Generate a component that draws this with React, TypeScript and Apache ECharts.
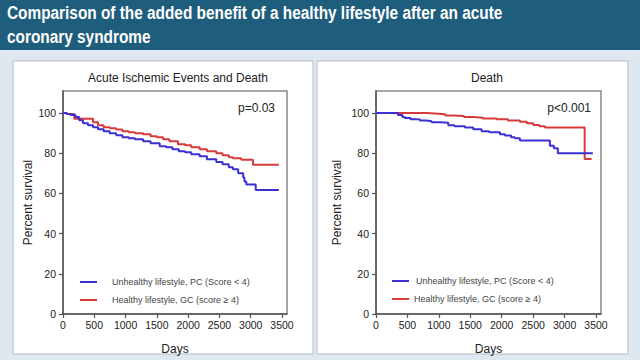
import React, { useEffect, useRef } from "react";
import * as echarts from "echarts";

const headerLines = [
  "Comparison of the added benefit of a healthy lifestyle after an acute",
  "coronary syndrome",
];
const panelTitles = ["Acute Ischemic Events and Death", "Death"];
const pValues = ["p=0.03", "p<0.001"];
const seriesNames = ["Unhealthy lifestyle, PC (Score < 4)", "Healthy lifestyle, GC (score ≥ 4)"];
const seriesColors = ["#3b30d4", "#d83a3a"];
const xTicks = [0, 500, 1000, 1500, 2000, 2500, 3000, 3500];
const yTicks = [0, 20, 40, 60, 80, 100];

// Left panel: Acute Ischemic Events and Death
const leftUnhealthy: [number, number][] = [
  [0, 100], [60, 99.5], [120, 99], [200, 98], [260, 96.5], [320, 95], [400, 94], [480, 93],
  [560, 92], [650, 91], [746, 90], [850, 89], [950, 88], [1050, 87.5], [1150, 87], [1280, 86],
  [1400, 85], [1545, 83.5], [1650, 83], [1750, 82], [1850, 81], [1950, 80.5], [2050, 79.5],
  [2184, 78.5], [2300, 77], [2450, 75.7], [2550, 74.5], [2650, 73], [2716, 72], [2800, 70],
  [2880, 68], [2900, 66], [2930, 64.5], [3080, 61.7], [3450, 61.7],
];
const leftHealthy: [number, number][] = [
  [0, 100], [60, 99.5], [180, 97.2], [450, 97.2], [480, 95.5], [560, 94], [650, 93], [750, 92.5],
  [850, 91.8], [950, 91], [1050, 90.5], [1150, 90], [1280, 89.5], [1400, 88.5], [1500, 88],
  [1600, 87], [1700, 86], [1838, 84.5], [1950, 84], [2050, 83], [2184, 82], [2300, 81],
  [2450, 80], [2550, 79], [2650, 78], [2716, 77.5], [2850, 76.8], [3036, 74.3], [3450, 74.3],
];
// Right panel: Death
const rightUnhealthy: [number, number][] = [
  [0, 100], [300, 100], [350, 99], [420, 98], [460, 97.5], [550, 97], [620, 96.8], [700, 96.3],
  [800, 96], [885, 95.5], [1018, 95.2], [1150, 94], [1250, 93.5], [1415, 92.8], [1547, 92],
  [1680, 91], [1800, 90.5], [1972, 89.5], [2050, 88.8], [2150, 88], [2210, 87.5], [2290, 86.3],
  [2690, 86.3], [2767, 83.7], [2830, 82.5], [2894, 80], [3450, 80],
];
const rightHealthy: [number, number][] = [
  [0, 100], [700, 100], [800, 99.7], [1000, 99.4], [1100, 98.8], [1230, 98.5], [1400, 98],
  [1547, 97.7], [1700, 97.3], [1918, 96.9], [2100, 96.3], [2290, 95.7], [2400, 95],
  [2502, 94.1], [2600, 93.5], [2687, 92.8], [3320, 77.2], [3430, 77.2],
];

const FONT = '"Liberation Sans", Arial, sans-serif';

export default function App() {
  const ref = useRef<HTMLDivElement>(null);
  useEffect(() => {
    document.body.style.margin = "0";
    const chart = echarts.init(ref.current!, null, { renderer: "svg" });

    const grids = [
      { left: 63, top: 91, width: 224, height: 225 },
      { left: 376, top: 91, width: 225, height: 224 },
    ];
    const nameGaps = [29, 33];

    const xAxis = grids.map((_, i) => ({
      type: "value",
      gridIndex: i,
      min: 0,
      max: 3580,
      name: "Days",
      nameLocation: "middle",
      nameGap: 29,
      nameTextStyle: { fontFamily: FONT, fontSize: 12, color: "#222" },
      axisLine: { show: true, lineStyle: { color: "#555", width: 1.5 } },
      axisTick: { show: true, length: 4, lineStyle: { color: "#555", width: 1.2 }, customValues: xTicks },
      axisLabel: {
        fontFamily: FONT, fontSize: 10.5, color: "#222", margin: 5, customValues: xTicks,
        formatter: (v: number) => String(v),
      },
      splitLine: { show: false },
    }));
    const yAxis = grids.map((_, i) => ({
      type: "value",
      gridIndex: i,
      min: 0,
      max: 111,
      name: "Percent survival",
      nameLocation: "middle",
      nameGap: nameGaps[i],
      nameTextStyle: { fontFamily: FONT, fontSize: 12, color: "#222" },
      axisLine: { show: true, lineStyle: { color: "#555", width: 1.5 } },
      axisTick: { show: true, length: 4, lineStyle: { color: "#555", width: 1.2 }, customValues: yTicks },
      axisLabel: {
        fontFamily: FONT, fontSize: 10.5, color: "#222", margin: 7, customValues: yTicks,
        formatter: (v: number) => String(v),
      },
      splitLine: { show: false },
    }));

    const mk = (name: string, color: string, data: [number, number][], idx: number) => ({
      type: "line",
      name,
      xAxisIndex: idx,
      yAxisIndex: idx,
      step: "end",
      showSymbol: false,
      symbol: "none",
      data,
      lineStyle: { color, width: 2 },
      itemStyle: { color },
      z: 3,
    });

    const legendPos = [
      { lineX: 80, rows: [282, 300], textXs: [112, 112] },
      { lineX: 392, rows: [281, 299], textXs: [416, 414] },
    ];

    const graphics: any[] = [
      { type: "rect", shape: { x: 0, y: 0, width: 640, height: 360 }, style: { fill: "#dfe8f1" }, z: -10 },
      { type: "rect", shape: { x: 0, y: 0, width: 640, height: 50 }, style: { fill: "#1e5d7c" }, z: -9 },
      { type: "rect", shape: { x: 13, y: 61, width: 300, height: 293 }, style: { fill: "#ffffff", stroke: "#b4bcc8", lineWidth: 1 }, z: -8 },
      { type: "rect", shape: { x: 317, y: 61, width: 311, height: 293 }, style: { fill: "#ffffff", stroke: "#b4bcc8", lineWidth: 1 }, z: -8 },
    ];
    headerLines.forEach((t, i) => {
      graphics.push({
        type: "text",
        x: 7,
        y: i === 0 ? 12.5 : 36,
        scaleX: 0.81,
        style: {
          text: t, fill: "#ffffff", font: `bold 19px ${FONT}`,
          align: "left", textAlign: "left", verticalAlign: "middle", textVerticalAlign: "middle",
        },
      });
    });
    const titleX = [178, 487];
    panelTitles.forEach((t, i) => {
      graphics.push({
        type: "text", x: titleX[i], y: 78,
        style: { text: t, fill: "#222", font: `12px ${FONT}`, align: "center", textAlign: "center", verticalAlign: "middle", textVerticalAlign: "middle" },
      });
    });
    const pX = [275, 591];
    pValues.forEach((t, i) => {
      graphics.push({
        type: "text", x: pX[i], y: 108,
        style: { text: t, fill: "#222", font: `12px ${FONT}`, align: "right", textAlign: "right", verticalAlign: "middle", textVerticalAlign: "middle" },
      });
    });
    legendPos.forEach((p) => {
      seriesNames.forEach((n, j) => {
        graphics.push({
          type: "line", shape: { x1: p.lineX, y1: p.rows[j], x2: p.lineX + 17, y2: p.rows[j] },
          style: { stroke: seriesColors[j], lineWidth: 2 },
        });
        graphics.push({
          type: "text", x: p.textXs[j], y: p.rows[j],
          style: { text: n, fill: "#444", font: `9px ${FONT}`, align: "left", textAlign: "left", verticalAlign: "middle", textVerticalAlign: "middle" },
        });
      });
    });

    chart.setOption({
      animation: false,
      grid: grids.map((g) => ({ ...g, show: true, borderColor: "#888", borderWidth: 1.5, backgroundColor: "transparent" })),
      xAxis,
      yAxis,
      series: [
        mk(seriesNames[1], seriesColors[1], leftHealthy, 0),
        mk(seriesNames[0], seriesColors[0], leftUnhealthy, 0),
        mk(seriesNames[1], seriesColors[1], rightHealthy, 1),
        mk(seriesNames[0], seriesColors[0], rightUnhealthy, 1),
      ],
      graphic: graphics,
    });
    return () => chart.dispose();
  }, []);
  return <div ref={ref} style={{ position: "absolute", left: 0, top: 0, width: 640, height: 360 }} />;
}
